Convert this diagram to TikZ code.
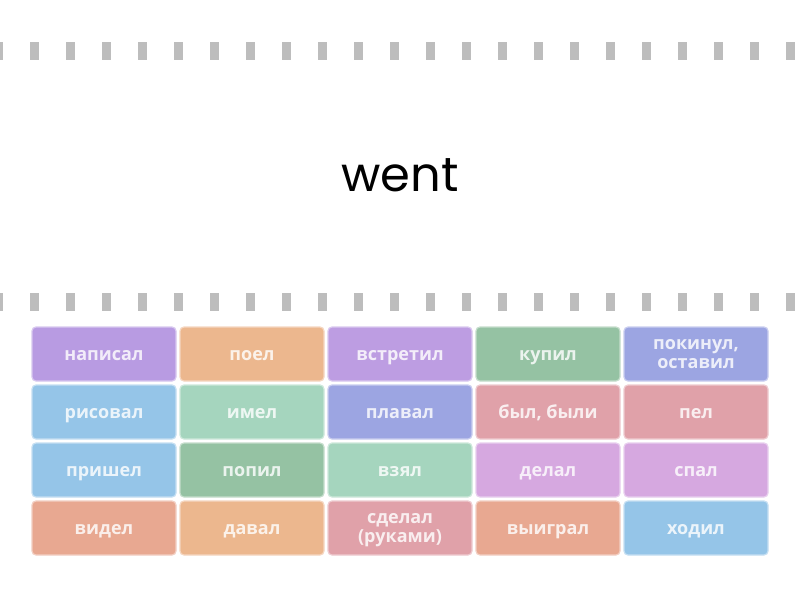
\documentclass[tikz,border=0pt]{standalone}
\usepackage{fontspec}
\setmainfont{Open Sans}
\newfontfamily\wentfont{Poppins}
\definecolor{dashgray}{HTML}{BDBDBD}
\definecolor{cPurple}{HTML}{B89BE2}
\definecolor{cOrchid}{HTML}{D6A8E0}
\definecolor{cPeach}{HTML}{ECB78E}
\definecolor{cSage}{HTML}{95C2A3}
\definecolor{cMint}{HTML}{A5D5BE}
\definecolor{cPeri}{HTML}{9CA5E2}
\definecolor{cBlue}{HTML}{95C5E8}
\definecolor{cRose}{HTML}{E0A1A9}
\definecolor{cSalmon}{HTML}{E8A891}
\tikzset{
  x=1pt, y=-1pt,
  tile/.style={minimum width=144pt, minimum height=54pt, rounded corners=4pt,
    fill=#1, draw=#1!55!white, line width=1.2pt, inner sep=2pt,
    text=white, text opacity=0.82, align=center,
    text height=12pt, text depth=0pt,
    font=\fontsize{18}{19}\selectfont\bfseries},
  twoline/.style={text height=28.8pt, text depth=0pt},
  dashline/.style={draw=dashgray, line width=18pt, dash pattern=on 9pt off 27pt, dash phase=6pt}
}
\begin{document}
\begin{tikzpicture}
\useasboundingbox[fill=white] (0,0) rectangle (800,600);
\coordinate (d1a) at (0,51); \coordinate (d1b) at (800,51);
\coordinate (d2a) at (0,302); \coordinate (d2b) at (800,302);
\draw[dashline] (d1a) -- (d1b);
\draw[dashline] (d2a) -- (d2b);
\node[font=\wentfont\fontsize{48}{48}\selectfont] (went) at (400,175) {went};
% row 1
\node[tile=cPurple] (n11) at (104,354) {написал};
\node[tile=cPeach]  (n12) at (252,354) {поел};
\node[tile=cPurple!85!cOrchid] (n13) at (400,354) {встретил};
\node[tile=cSage]   (n14) at (548,354) {купил};
\node[tile=cPeri, twoline] (n15) at (696,354) {покинул,\\оставил};
% row 2
\node[tile=cBlue]   (n21) at (104,412) {рисовал};
\node[tile=cMint]   (n22) at (252,412) {имел};
\node[tile=cPeri]   (n23) at (400,412) {плавал};
\node[tile=cRose]   (n24) at (548,412) {был, были};
\node[tile=cRose]   (n25) at (696,412) {пел};
% row 3
\node[tile=cBlue]   (n31) at (104,470) {пришел};
\node[tile=cSage]   (n32) at (252,470) {попил};
\node[tile=cMint]   (n33) at (400,470) {взял};
\node[tile=cOrchid] (n34) at (548,470) {делал};
\node[tile=cOrchid] (n35) at (696,470) {спал};
% row 4
\node[tile=cSalmon] (n41) at (104,528) {видел};
\node[tile=cPeach]  (n42) at (252,528) {давал};
\node[tile=cRose, twoline] (n43) at (400,528) {сделал\\(руками)};
\node[tile=cSalmon] (n44) at (548,528) {выиграл};
\node[tile=cBlue]   (n45) at (696,528) {ходил};
\end{tikzpicture}
\end{document}
